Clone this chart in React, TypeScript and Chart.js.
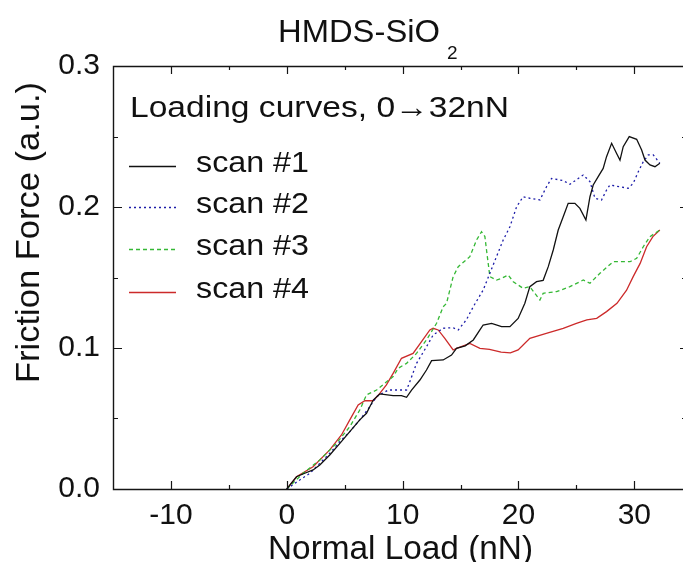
import React, { useEffect, useRef } from 'react';
import { Chart, registerables } from 'chart.js';

Chart.register(...registerables);

// ---- axis configuration ----
const X_MIN = -15;
const X_MAX = 34.2;
const Y_MIN = 0;
const Y_MAX = 0.3;
const X_TICKS = [-10, 0, 10, 20, 30];
const Y_TICKS = [0, 0.1, 0.2, 0.3];
const X_TICK_MARKS = [-10, -5, 0, 5, 10, 15, 20, 25, 30];
const Y_TICK_MARKS = [0.05, 0.1, 0.15, 0.2, 0.25];

const TITLE_MAIN = 'HMDS-SiO';
const TITLE_SUB = '2';
const NOTE = 'Loading curves, 0\u219232nN';
const X_TITLE = 'Normal Load (nN)';
const Y_TITLE = 'Friction Force (a.u.)';

const SERIES_LABELS = ['scan #1', 'scan #2', 'scan #3', 'scan #4'];
const SERIES_COLORS = ['#111111', '#1c1ca8', '#35b835', '#cc2a2a'];
const SERIES_DASH = [[], [2, 3], [4, 3], []];

// ---- data ----
const SCAN1_X = [0, 0.84, 1.5, 2.27, 2.85, 3.71, 4.58, 5.44, 6.3, 6.88, 7.46, 8.03, 9.18, 9.9, 10.34, 10.77, 11.49, 12.06, 12.5, 13.5, 14.22, 14.65, 15.4, 16.1, 16.67, 16.95, 17.68, 18.54, 19.26, 19.97, 20.55, 20.98, 21.56, 22.13, 22.57, 23.0, 23.43, 23.86, 24.29, 24.87, 25.3, 25.82, 26.17, 26.45, 26.88, 27.31, 27.6, 28.04, 28.47, 28.76, 29.04, 29.56, 30.2, 30.63, 30.92, 31.35, 31.78, 32.2];
const SCAN1_Y = [0, 0.0087, 0.011, 0.0135, 0.017, 0.0241, 0.0324, 0.0407, 0.049, 0.0537, 0.0631, 0.0674, 0.0662, 0.0662, 0.065, 0.0702, 0.0773, 0.0844, 0.091, 0.0915, 0.095, 0.0998, 0.1015, 0.1057, 0.1128, 0.1163, 0.1175, 0.1151, 0.1151, 0.121, 0.1317, 0.1435, 0.147, 0.148, 0.1577, 0.1695, 0.1837, 0.1931, 0.2026, 0.2026, 0.199, 0.1908, 0.2073, 0.2156, 0.2215, 0.2274, 0.2357, 0.2452, 0.238, 0.2333, 0.2428, 0.2499, 0.248, 0.2404, 0.2333, 0.2298, 0.2286, 0.231];

const SCAN2_X = [0, 1.12, 1.99, 2.85, 3.71, 4.58, 5.44, 6.3, 7.17, 7.75, 8.75, 10.34, 10.62, 11.2, 12.06, 12.63, 13.5, 14.36, 14.8, 15.5, 16.1, 16.95, 17.53, 18.1, 18.68, 19.26, 19.84, 20.4, 20.98, 21.85, 22.42, 22.86, 23.86, 24.44, 25.59, 26.17, 26.6, 27.17, 27.6, 27.89, 29.47, 29.9, 30.34, 30.77, 31.2, 31.64, 32.2];
const SCAN2_Y = [0, 0.0064, 0.0111, 0.0182, 0.0253, 0.0336, 0.0407, 0.049, 0.0584, 0.0655, 0.0702, 0.0702, 0.0761, 0.0891, 0.1009, 0.1092, 0.114, 0.1144, 0.1128, 0.12, 0.1293, 0.1411, 0.153, 0.1648, 0.1766, 0.186, 0.2002, 0.2073, 0.2062, 0.205, 0.2144, 0.2203, 0.2187, 0.2161, 0.2227, 0.218, 0.2062, 0.205, 0.212, 0.2156, 0.2133, 0.2168, 0.225, 0.2321, 0.2369, 0.2369, 0.231];

const SCAN3_X = [0, 1.41, 2.85, 4.29, 5.44, 6.3, 6.88, 7.75, 8.46, 9.18, 9.61, 10.34, 11.2, 12.06, 12.93, 13.5, 13.79, 14.36, 14.8, 15.8, 16.38, 16.81, 17.1, 17.24, 17.53, 18.1, 18.54, 19.11, 19.55, 20.4, 20.98, 21.85, 22.13, 23.29, 24.44, 25.59, 26.17, 27.03, 28.18, 29.62, 30.2, 30.77, 31.35, 32.2];
const SCAN3_Y = [0, 0.0111, 0.0206, 0.0324, 0.0442, 0.056, 0.0667, 0.0702, 0.075, 0.0797, 0.0856, 0.0891, 0.0962, 0.1057, 0.1175, 0.1293, 0.1317, 0.1506, 0.1577, 0.1648, 0.1766, 0.1825, 0.179, 0.1695, 0.1506, 0.1482, 0.1494, 0.1518, 0.147, 0.1423, 0.1435, 0.134, 0.1388, 0.14, 0.1435, 0.1482, 0.1459, 0.153, 0.1612, 0.1612, 0.1636, 0.1718, 0.179, 0.1837];

const SCAN4_X = [0, 0.84, 2.27, 3.71, 4.72, 5.44, 6.16, 6.74, 7.46, 8.03, 8.6, 9.18, 9.9, 10.9, 11.63, 12.35, 12.63, 13.07, 13.64, 14.36, 14.65, 15.8, 16.67, 17.5, 18.5, 19.3, 19.97, 20.98, 22.4, 23.86, 25.0, 25.9, 26.75, 27.6, 28.5, 29.33, 29.9, 30.5, 31.06, 31.6, 32.2];
const SCAN4_Y = [0, 0.0087, 0.0158, 0.0277, 0.0383, 0.049, 0.0596, 0.0626, 0.0626, 0.0678, 0.0738, 0.082, 0.0927, 0.0962, 0.1045, 0.1128, 0.114, 0.1128, 0.1069, 0.0986, 0.0998, 0.1033, 0.0998, 0.099, 0.097, 0.0965, 0.0986, 0.1069, 0.1104, 0.114, 0.1175, 0.12, 0.121, 0.1258, 0.1317, 0.141, 0.1506, 0.16, 0.1718, 0.179, 0.1837];

const SERIES_X = [SCAN1_X, SCAN2_X, SCAN3_X, SCAN4_X];
const SERIES_Y = [SCAN1_Y, SCAN2_Y, SCAN3_Y, SCAN4_Y];

const FONT = '"Liberation Sans", Arial, Helvetica, sans-serif';

function drawFitted(ctx: CanvasRenderingContext2D, text: string, x: number, y: number, size: number, targetW: number, align: CanvasTextAlign) {
  ctx.font = `${size}px ${FONT}`;
  const w = ctx.measureText(text).width;
  const sx = w > 0 ? targetW / w : 1;
  ctx.save();
  ctx.translate(x, y);
  ctx.scale(sx, 1);
  ctx.textAlign = align;
  ctx.textBaseline = 'alphabetic';
  ctx.fillText(text, 0, 0);
  ctx.restore();
}

const decorPlugin = {
  id: 'decor',
  afterDraw(chart: any) {
    const { ctx, chartArea: a, scales } = chart;
    const xs = scales.x;
    const ys = scales.y;
    ctx.save();
    ctx.strokeStyle = '#151515';
    ctx.lineWidth = 1.4;
    ctx.setLineDash([]);
    // frame (right edge lies beyond the picture)
    ctx.beginPath();
    ctx.moveTo(a.right, a.top + 0.5);
    ctx.lineTo(a.left + 0.5, a.top + 0.5);
    ctx.lineTo(a.left + 0.5, a.bottom + 0.5);
    ctx.lineTo(a.right, a.bottom + 0.5);
    ctx.stroke();
    // x tick marks (inward, bottom and top)
    ctx.lineWidth = 1.2;
    ctx.beginPath();
    for (const v of X_TICK_MARKS) {
      const px = Math.round(xs.getPixelForValue(v)) + 0.5;
      const len = v % 10 === 0 ? 8 : 4;
      ctx.moveTo(px, a.bottom);
      ctx.lineTo(px, a.bottom - len);
      ctx.moveTo(px, a.top);
      ctx.lineTo(px, a.top + len);
    }
    for (const v of Y_TICK_MARKS) {
      const py = Math.round(ys.getPixelForValue(v)) + 0.5;
      const major = Math.abs((v * 10) - Math.round(v * 10)) < 1e-6;
      const len = major ? 9 : 5;
      ctx.moveTo(a.left, py);
      ctx.lineTo(a.left + len, py);
      ctx.moveTo(a.right, py);
      ctx.lineTo(a.right - (major ? 3 : 1), py);
    }
    ctx.stroke();

    ctx.fillStyle = '#111';
    // title with subscript
    drawFitted(ctx, TITLE_MAIN, 278, 42, 31, 162, 'left');
    ctx.font = `19px ${FONT}`;
    ctx.textAlign = 'left';
    ctx.textBaseline = 'alphabetic';
    ctx.fillText(TITLE_SUB, 447, 59);

    // note
    drawFitted(ctx, NOTE, 130, 117, 30, 379, 'left');

    // legend
    const rowsY = [166, 207, 249, 292];
    chart.data.datasets.forEach((ds: any, i: number) => {
      const y = rowsY[i];
      ctx.save();
      ctx.strokeStyle = ds.borderColor;
      ctx.lineWidth = ds.borderWidth;
      ctx.setLineDash(ds.borderDash || []);
      ctx.beginPath();
      ctx.moveTo(129, y + 0.5);
      ctx.lineTo(176, y + 0.5);
      ctx.stroke();
      ctx.restore();
      drawFitted(ctx, ds.label, 196, y + 6, 30, 113, 'left');
    });

    // axis titles
    drawFitted(ctx, X_TITLE, 400.5, 559, 33, 265, 'center');
    ctx.save();
    ctx.translate(39, 232.5);
    ctx.rotate(-Math.PI / 2);
    drawFitted(ctx, Y_TITLE, 0, 0, 33, 301, 'center');
    ctx.restore();
    ctx.restore();
  },
};

export default function App() {
  const ref = useRef<HTMLCanvasElement | null>(null);
  useEffect(() => {
    if (!ref.current) return;
    const datasets = SERIES_LABELS.map((label, i) => ({
      label,
      data: SERIES_X[i].map((x, j) => ({ x, y: SERIES_Y[i][j] })),
      showLine: true,
      borderColor: SERIES_COLORS[i],
      backgroundColor: SERIES_COLORS[i],
      borderDash: SERIES_DASH[i],
      borderWidth: 1.3,
      pointRadius: 0,
      fill: false,
      tension: 0,
    }));
    const chart = new Chart(ref.current, {
      type: 'scatter',
      data: { datasets },
      options: {
        animation: false,
        responsive: false,
        devicePixelRatio: 1,
        layout: { padding: { top: 66, left: 0, right: 0, bottom: 0 } },
        plugins: {
          legend: { display: false },
          title: { display: false },
          tooltip: { enabled: false },
        },
        scales: {
          x: {
            type: 'linear',
            min: X_MIN,
            max: X_MAX,
            grid: { display: false, drawTicks: false },
            border: { display: false },
            ticks: {
              color: '#111',
              padding: 9,
              maxRotation: 0,
              autoSkip: false,
              font: { family: FONT, size: 30 },
              callback: (v: any) => String(v),
            },
            afterBuildTicks: (s: any) => {
              s.ticks = X_TICKS.map((v) => ({ value: v }));
            },
            afterFit: (s: any) => {
              s.height = 73;
            },
          },
          y: {
            type: 'linear',
            min: Y_MIN,
            max: Y_MAX,
            grid: { display: false, drawTicks: false },
            border: { display: false },
            ticks: {
              color: '#111',
              padding: 13,
              autoSkip: false,
              font: { family: FONT, size: 30 },
              callback: (v: any) => Number(v).toFixed(1),
            },
            afterBuildTicks: (s: any) => {
              s.ticks = Y_TICKS.map((v) => ({ value: v }));
            },
            afterFit: (s: any) => {
              s.width = 113;
            },
          },
        },
      } as any,
      plugins: [decorPlugin],
    });
    return () => chart.destroy();
  }, []);
  return (
    <div style={{ position: 'fixed', left: 0, top: 0, width: 683, height: 562, background: '#fff', overflow: 'hidden' }}>
      <canvas ref={ref} width={683} height={562} style={{ display: 'block' }} />
    </div>
  );
}
